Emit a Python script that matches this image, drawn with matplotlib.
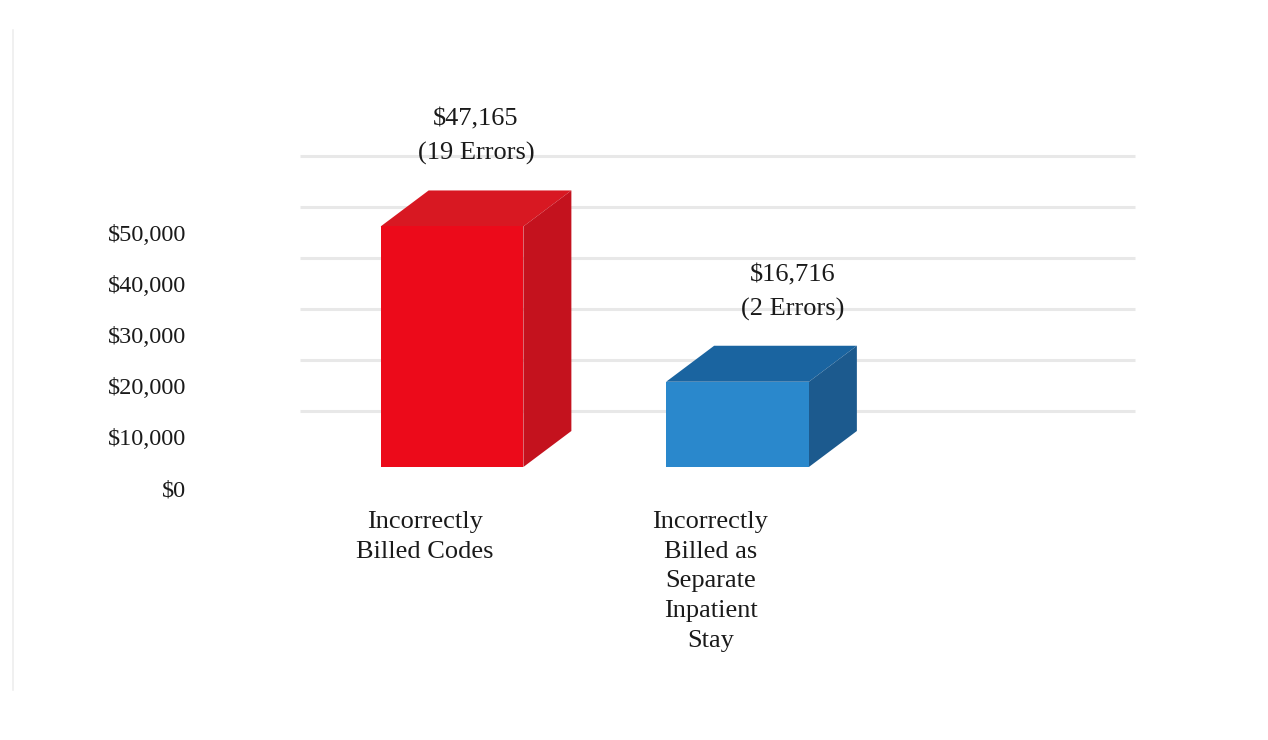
import matplotlib
matplotlib.use("Agg")
import matplotlib.pyplot as plt
from matplotlib.patches import Polygon
from matplotlib.transforms import ScaledTranslation

categories = ["Incorrectly\nBilled Codes",
              "Incorrectly\nBilled as\nSeparate\nInpatient\nStay"]
values = [47165, 16716]
errors = [19, 2]
yticks = [0, 10000, 20000, 30000, 40000, 50000]
ytick_labels = ["$0", "$10,000", "$20,000", "$30,000", "$40,000", "$50,000"]
gridvals = [10000, 20000, 30000, 40000, 50000, 60000]

front_cols = ["#EC0A1A", "#2A88CC"]
top_cols = ["#D81822", "#1A64A0"]
side_cols = ["#C4121E", "#1C5A8E"]
label_dx = [0.0, 0.11]

W, H = 1268, 740
fig = plt.figure(figsize=(W / 100, H / 100), dpi=100)
fig.patch.set_facecolor("white")

ax_l, ax_r, ax_t, ax_b = 200, 1140, 100, 500
ax = fig.add_axes([ax_l / W, 1 - ax_b / H, (ax_r - ax_l) / W, (ax_b - ax_t) / H])

px_per_dollar = 0.0051
px_per_cat = 285.5
x0_pix, y0_pix = 452, 488
ax.set_xlim((ax_l - x0_pix) / px_per_cat, (ax_r - x0_pix) / px_per_cat)
ax.set_ylim((y0_pix - ax_b) / px_per_dollar, (y0_pix - ax_t) / px_per_dollar)

for s in ax.spines.values():
    s.set_visible(False)
ax.set_facecolor("none")

serif = ["Liberation Serif", "DejaVu Serif"]

wall_dy = 26 / px_per_dollar
gx0 = (300 - x0_pix) / px_per_cat
gx1 = (1135 - x0_pix) / px_per_cat
for g in gridvals:
    ax.plot([gx0, gx1], [g + wall_dy, g + wall_dy], color="#E8E8E8", lw=2.2,
            zorder=0, solid_capstyle="butt")

bar_w = 0.5
base = (y0_pix - 467) / px_per_dollar
ddx = 48 / px_per_cat
ddy = 36 / px_per_dollar
for i, v in enumerate(values):
    xl, xr = i - bar_w / 2, i + bar_w / 2
    yb, yt = base, base + v
    ax.bar(i, v, width=bar_w, bottom=base, color=front_cols[i], zorder=3,
           linewidth=0)
    top = Polygon([(xl, yt), (xr, yt), (xr + ddx, yt + ddy), (xl + ddx, yt + ddy)],
                  closed=True, facecolor=top_cols[i], edgecolor="none", zorder=2)
    side = Polygon([(xr, yb), (xr + ddx, yb + ddy), (xr + ddx, yt + ddy), (xr, yt)],
                   closed=True, facecolor=side_cols[i], edgecolor="none", zorder=2)
    ax.add_patch(top)
    ax.add_patch(side)
    ax.annotate(f"${v:,}\n({errors[i]} Errors)",
                xy=(i + ddx / 2 + label_dx[i], yt + ddy),
                xytext=(0, 18), textcoords="offset points", ha="center", va="bottom",
                fontsize=19, family=serif, color="#1a1a1a", linespacing=1.65)

ax.set_yticks(yticks)
ax.set_yticklabels(ytick_labels, family=serif, fontsize=17.5, color="#1a1a1a")
ax.tick_params(axis="y", length=0, pad=10)

ax.set_xticks(range(len(categories)))
ax.set_xticklabels(categories, family=serif, fontsize=19, color="#1a1a1a",
                   linespacing=1.45)
ax.tick_params(axis="x", length=0, pad=8)
for lab in ax.get_xticklabels():
    lab.set_transform(lab.get_transform() + ScaledTranslation(-0.27, 0, fig.dpi_scale_trans))

fig.add_artist(plt.Line2D([13 / W, 13 / W], [1 - 690 / H, 1 - 30 / H],
                          color="#EEEEEE", lw=1.2))

fig.savefig("out.png", dpi=100, facecolor="white")
